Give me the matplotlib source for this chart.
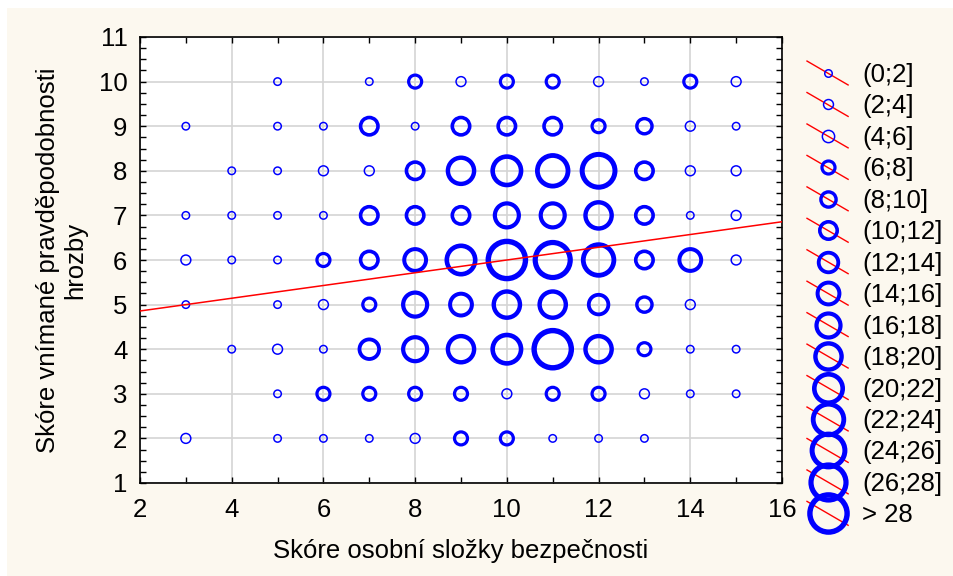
import matplotlib
matplotlib.use("Agg")
import numpy as np
from matplotlib import pyplot as plt
from matplotlib.lines import Line2D
from matplotlib.patches import Rectangle
from matplotlib.legend_handler import HandlerBase

plt.rcParams['font.family'] = ['Liberation Sans', 'DejaVu Sans']

# frequency of each (x, y) score pair; 0 = no bubble
x_scores = [3, 4, 5, 6, 7, 8, 9, 10, 11, 12, 13, 14, 15]
y_scores = [10, 9, 8, 7, 6, 5, 4, 3, 2]
counts = [
    [0, 0, 1, 0, 1, 7, 3, 7, 7, 3, 1, 7, 3],          # y = 10
    [1, 0, 1, 1, 11, 1, 11, 11, 11, 7, 9, 3, 1],      # y = 9
    [0, 1, 1, 3, 3, 11, 19, 21, 23, 25, 11, 3, 3],    # y = 8
    [1, 1, 1, 1, 11, 11, 11, 17, 17, 19, 11, 1, 3],   # y = 7
    [3, 1, 1, 7, 11, 15, 21, 30, 27, 23, 11, 15, 3],  # y = 6
    [1, 0, 1, 3, 7, 17, 15, 19, 19, 13, 9, 3, 0],     # y = 5
    [0, 1, 3, 1, 13, 17, 20, 21, 30, 19, 7, 1, 1],    # y = 4
    [0, 0, 1, 7, 7, 7, 7, 3, 7, 7, 3, 1, 1],          # y = 3
    [3, 0, 1, 1, 1, 3, 7, 7, 1, 1, 1, 0, 0],          # y = 2
]
class_labels = ['(0;2]', '(2;4]', '(4;6]', '(6;8]', '(8;10]', '(10;12]', '(12;14]',
                '(14;16]', '(16;18]', '(18;20]', '(20;22]', '(22;24]', '(24;26]',
                '(26;28]', '> 28']

# fitted line y = a + b*x
fit_a = 4.571
fit_b = 0.1429

BLUE = '#0000FF'
CREAM = '#FCF8EF'
DPI = 100
FS = 18.5


def class_of(n):
    return min(int(np.ceil(n / 2.0)), 15)


def ring_width_pt(k):
    px = 1.5 if k <= 3 else 3.2 + 0.2 * (k - 4)
    return px * 72.0 / DPI


def ring_ms_pt(k):
    outer_px = 9 + 2.4 * (k - 1)
    return outer_px * 72.0 / DPI - ring_width_pt(k)


class DiagonalHandler(HandlerBase):
    def create_artists(self, legend, orig_handle, xdescent, ydescent, width, height, fontsize, trans):
        cx = 0.5 * width - xdescent
        cy = 0.5 * height - ydescent
        dx, dy = 14.8, 8.6
        diag = Line2D([cx - dx, cx + dx], [cy + dy, cy - dy], color='red', lw=1.0, transform=trans)
        ring = Line2D([cx], [cy], marker='o', ls='none', mfc='none', mec=BLUE,
                      ms=orig_handle.get_markersize(), mew=orig_handle.get_markeredgewidth(),
                      transform=trans)
        return [diag, ring]


fig = plt.figure(figsize=(9.54, 5.76), dpi=DPI, facecolor='white')
fig.patches.append(Rectangle((7 / 954, 0), 1, (576 - 8) / 576, transform=fig.transFigure,
                             facecolor=CREAM, edgecolor='none', zorder=-10))
ax = fig.add_axes([140 / 954, (576 - 483) / 576, 642 / 954, 446 / 576])
ax.set_facecolor('white')

px, py, ps, pw = [], [], [], []
for yv, row in zip(y_scores, counts):
    for xv, n in zip(x_scores, row):
        if n <= 0:
            continue
        k = class_of(n)
        px.append(xv)
        py.append(yv)
        ps.append(ring_ms_pt(k) ** 2)
        pw.append(ring_width_pt(k))
ax.scatter(px, py, s=ps, facecolors='none', edgecolors=BLUE, linewidths=pw, zorder=3)

xl = np.array([2, 16])
ax.plot(xl, fit_a + fit_b * xl, color='red', lw=1.1, zorder=4)

ax.set_xlim(2, 16)
ax.set_ylim(1, 11)
ax.set_xticks(range(2, 17, 2))
ax.set_xticks(range(2, 17), minor=True)
ax.set_yticks(range(1, 12))
ax.set_yticks(np.arange(1, 11.01, 0.25), minor=True)
ax.grid(True, which='major', color='#d4d4d4', lw=1.2, zorder=0)
ax.set_axisbelow(True)
ax.tick_params(which='both', direction='in', top=True, right=True, length=4, width=1, labelsize=FS)
ax.tick_params(axis='x', pad=11)
ax.tick_params(axis='y', pad=9)
for s in ax.spines.values():
    s.set_linewidth(1.2)

ax.set_xlabel('Skóre osobní složky bezpečnosti', fontsize=FS, labelpad=12)
ax.set_ylabel('Skóre vnímané pravděpodobnosti\nhrozby', fontsize=FS, labelpad=8)

handles = [Line2D([], [], marker='o', ls='none', mfc='none', mec=BLUE,
                  ms=ring_ms_pt(k), mew=ring_width_pt(k)) for k in range(1, 16)]
fig.legend(handles, class_labels, loc='upper left', bbox_to_anchor=(807 / 954, (576 - 63) / 576),
           frameon=False, fontsize=FS, borderpad=0, borderaxespad=0, handlelength=1.6,
           handleheight=0.7, handletextpad=0.54, labelspacing=0.29,
           handler_map={Line2D: DiagonalHandler()})

fig.savefig('out.png', dpi=DPI, facecolor=fig.get_facecolor())
